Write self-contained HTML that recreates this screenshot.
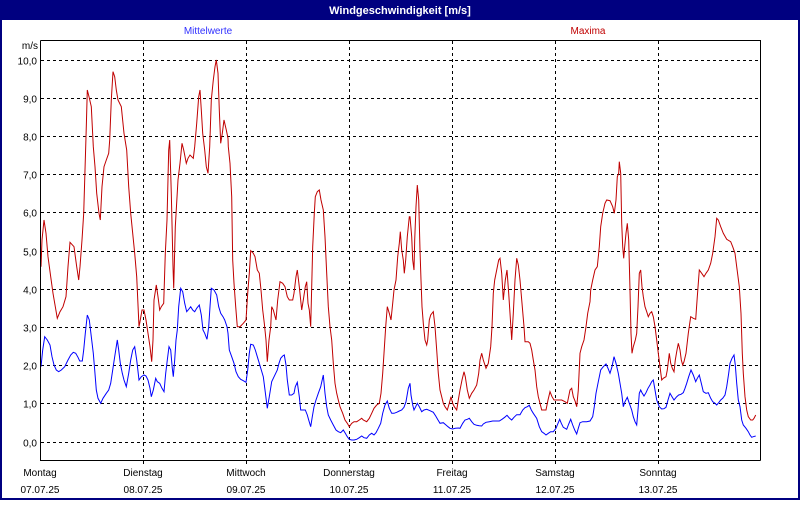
<!DOCTYPE html>
<html><head><meta charset="utf-8"><style>
html,body{margin:0;padding:0;background:#fff;}
body{width:800px;height:500px;overflow:hidden;font-family:"Liberation Sans",Arial,sans-serif;}
</style></head><body>
<svg id="s" width="800" height="500" xmlns="http://www.w3.org/2000/svg" font-family="Liberation Sans, Arial, sans-serif" font-size="10">
<rect x="0" y="0" width="800" height="500" fill="#000080"/>
<rect x="2" y="20" width="796" height="478" fill="#fff"/>
<text x="400" y="14" fill="#fff" font-weight="bold" font-size="11" text-anchor="middle">Windgeschwindigkeit [m/s]</text>
<text x="208" y="34" fill="#3030ff" text-anchor="middle">Mittelwerte</text>
<text x="588" y="34" fill="#c00000" text-anchor="middle">Maxima</text>
<text x="38" y="49" text-anchor="end">m/s</text>
<g id="grid" stroke="#000" stroke-width="1" stroke-dasharray="3,3"></g>
<g id="lbl" text-anchor="end"></g>
<g id="xl" text-anchor="middle"></g>
<clipPath id="cp"><rect x="41" y="41" width="719" height="419"/></clipPath>
<g clip-path="url(#cp)" fill="none" stroke-width="1">
<polyline id="red" stroke="#c00000"/>
<polyline id="blue" stroke="#0000ff"/>
</g>
<path d="M40.5 40.5H760.5V460.5M40.5 40.5V460.5H760.5" stroke="#000" fill="none"/>
</svg>
<script>
var g=document.getElementById('grid'),l=document.getElementById('lbl'),xl=document.getElementById('xl');
var ns='http://www.w3.org/2000/svg';
function el(t,a,p,txt){var e=document.createElementNS(ns,t);for(var k in a)e.setAttribute(k,a[k]);if(txt)e.textContent=txt;p.appendChild(e);return e;}
for(var v=0;v<=10;v++){var y=Math.round(441.5-v*38.2)+0.5;el('line',{x1:41,x2:760,y1:y,y2:y},g);el('text',{x:37,y:y+4},l,v.toFixed(1).replace('.',','));}
var days=['Montag','Dienstag','Mittwoch','Donnerstag','Freitag','Samstag','Sonntag'];
for(var i=0;i<7;i++){var x=40+i*103;if(i>0)el('line',{x1:x+0.5,x2:x+0.5,y1:41,y2:466},g);
var cx=i==0?40:x;el('text',{x:cx,y:476},xl,days[i]);el('text',{x:cx,y:493},xl,(7+i<10?'0':'')+(7+i)+'.07.25');}
function build(segs){var out=[],last=-1;segs.forEach(function(s){s[0].forEach(function(p){var x=s[1]+p[0]/3,y=40+p[1]/3;if(x>last+0.3){out.push(x.toFixed(1)+','+y.toFixed(1));last=x;}});});return out.join(' ');}
var R4=[[9,680],[12,600],[18,540],[24,580],[30,650],[38,710],[45,760],[52,800],[58,835],[66,815],[75,800],[84,770],[90,680],[96,607],[108,620],[116,680],[122,720],[126,680],[132,600],[137,520],[140,420],[145,260],[148,150],[153,170],[160,200],[166,320],[171,380],[176,460],[183,520],[187,540],[192,440],[198,380],[205,360],[212,340],[215,300],[220,180],[225,95],[230,110],[235,150],[240,180],[250,200],[258,280],[266,330],[272,440],[278,520],[284,580],[290,640],[296,710],[303,860],[307,840],[312,810],[318,810],[324,840],[330,880],[336,920],[341,965],[345,900],[348,780],[355,735],[360,770],[365,810],[370,800],[377,790],[382,640],[387,540],[392,330],[395,300],[400,460],[405,680],[407,745],[412,560],[420,420],[426,370],[432,310],[437,330],[445,370],[450,355],[456,345],[466,355],[470,320],[476,250],[482,170],[486,150],[490,210],[494,280],[500,330],[505,380],[510,400],[515,320],[520,180],[526,120],[531,80],[535,60],[540,100],[544,210],[548,310],[553,280],[558,240],[565,270],[570,295]];
var R5=[[5,280],[8,300],[13,240],[18,260],[25,320],[30,370],[35,470],[38,660],[42,730],[47,800],[52,860],[60,860],[70,850],[78,840],[83,760],[88,700],[92,632],[100,640],[105,650],[112,690],[118,700],[123,750],[128,810],[133,850],[138,900],[142,965],[147,900],[152,860],[155,800],[160,810],[168,840],[173,780],[180,725],[188,730],[195,740],[202,770],[208,780],[218,780],[222,760],[228,710],[232,690],[238,740],[245,810],[250,780],[256,740],[260,725],[264,790],[268,810],[272,860],[275,740],[278,620],[283,520],[286,470],[292,455],[298,450],[303,480],[310,510],[315,590],[320,700],[325,800],[330,860],[335,900],[340,970],[345,1030],[350,1060],[355,1080],[360,1100],[368,1120],[375,1140],[382,1150],[388,1160],[395,1150],[402,1145],[410,1145],[418,1140],[425,1135],[430,1140],[440,1145],[448,1135],[455,1120],[462,1105],[470,1095],[478,1090],[483,1060],[488,1000],[492,940],[497,860],[502,800],[508,820],[513,840],[518,790],[522,750],[528,720],[533,650],[538,610],[541,575],[545,630],[550,660],[553,700],[557,660],[562,590],[568,530]];
var R6=[[30,530],[35,590],[38,660],[42,690],[44,600],[48,500],[52,435],[56,480],[60,630],[63,720],[66,800],[70,850],[75,900],[80,915],[83,900],[88,840],[92,825],[100,815],[105,860],[110,930],[115,1000],[120,1050],[125,1070],[130,1090],[135,1100],[142,1110],[148,1090],[153,1070],[158,1090],[163,1100],[170,1110],[175,1080],[180,1050],[186,1020],[192,995],[196,1010],[202,1050],[208,1075],[215,1060],[222,1050],[230,1035],[236,1000],[240,960],[245,940],[250,960],[258,985],[265,970],[272,920],[276,860],[280,760],[284,720],[290,690],[296,660],[300,655],[305,700],[310,780],[316,720],[321,690],[326,760],[330,820],[335,900],[340,820],[345,720],[350,655],[355,675],[360,720],[366,790],[372,860],[375,905],[385,905],[390,910],[395,930],[400,960],[405,990],[410,1040],[415,1070],[420,1090],[425,1110],[438,1110],[444,1080],[450,1055],[456,1070],[462,1080],[470,1080],[485,1080],[495,1085],[502,1090],[510,1050],[515,1045],[520,1070],[526,1085],[530,1100],[535,1050],[540,940],[545,920],[552,900],[558,860],[563,820],[570,785]];
var R7=[[5,920],[12,900],[18,860],[25,800],[32,750],[38,720],[45,690],[52,680],[58,620],[62,560],[68,520],[75,490],[80,480],[90,482],[98,500],[103,520],[108,480],[112,410],[116,400],[118,365],[122,400],[125,550],[128,620],[131,655],[134,620],[138,580],[142,550],[146,600],[150,750],[153,880],[156,940],[160,920],[166,900],[170,880],[174,800],[178,700],[182,690],[186,740],[190,770],[195,800],[200,815],[205,830],[210,820],[215,815],[220,830],[225,860],[230,900],[235,940],[240,980],[245,1020],[250,1015],[258,1010],[262,990],[268,940],[272,970],[277,985],[282,995],[286,960],[290,935],[295,910],[300,930],[304,960],[308,975],[312,965],[318,940],[325,880],[332,830],[340,835],[347,838],[352,770],[358,690],[365,700],[372,710],[378,700],[385,690],[392,670],[398,640],[405,590],[410,535],[415,540],[422,560],[430,580],[440,598],[452,605],[458,620],[465,640],[470,680],[478,740],[483,820],[487,940],[490,1000],[495,1070],[500,1110],[505,1130],[512,1140],[518,1140],[522,1135],[527,1125]];
var B4=[[9,980],[14,930],[20,890],[28,900],[36,915],[42,950],[48,975],[55,990],[62,995],[70,990],[80,980],[90,960],[98,945],[106,937],[113,940],[120,952],[125,963],[133,963],[137,930],[142,880],[148,825],[154,840],[160,890],[166,940],[170,990],[175,1050],[180,1075],[188,1090],[195,1075],[205,1060],[212,1050],[218,1030],[224,990],[230,950],[238,900],[242,930],[247,970],[253,1000],[258,1020],[265,1040],[272,1000],[278,960],[284,930],[290,920],[296,960],[303,1020],[310,1010],[318,1005],[324,1008],[330,1020],[336,1045],[340,1070],[346,1050],[353,1015],[358,1025],[365,1030],[372,1045],[378,1055],[383,1000],[388,960],[393,920],[398,930],[403,985],[406,1010],[410,960],[414,900],[418,870],[422,800],[428,745],[434,755],[440,790],[446,815],[452,808],[458,800],[464,810],[470,815],[476,805],[484,795],[490,825],[495,870],[500,880],[507,898],[512,860],[516,800],[520,745],[528,750],[536,765],[542,800],[548,820],[555,830],[560,840],[567,860],[570,880]];
var B5=[[8,830],[15,860],[22,900],[28,930],[35,950],[42,970],[48,995],[55,1010],[62,1018],[70,1022],[78,1027],[83,990],[88,940],[92,913],[100,915],[106,930],[112,950],[118,970],[124,990],[130,1010],[135,1050],[142,1105],[148,1070],[155,1025],[160,1015],[167,1000],[172,990],[177,970],[182,955],[188,948],[193,945],[198,975],[202,1020],[208,1065],[215,1065],[222,1060],[226,1040],[232,1027],[238,1070],[242,1110],[248,1110],[256,1110],[262,1125],[266,1140],[272,1160],[277,1130],[282,1100],[288,1080],[295,1060],[302,1040],[310,1005],[315,1060],[320,1100],[325,1125],[332,1140],[340,1155],[348,1170],[355,1175],[362,1178],[370,1170],[376,1180],[382,1190],[388,1198],[395,1200],[402,1200],[410,1198],[418,1193],[425,1188],[432,1193],[440,1195],[448,1185],[455,1180],[462,1185],[468,1178],[475,1165],[482,1150],[488,1120],[495,1095],[502,1083],[508,1105],[515,1120],[522,1120],[530,1117],[538,1113],[545,1110],[552,1102],[558,1085],[565,1045],[570,1030]];
var B6=[[30,1040],[33,1065],[38,1095],[42,1110],[47,1100],[52,1090],[58,1100],[65,1115],[72,1110],[80,1108],[90,1112],[100,1117],[107,1128],[114,1140],[120,1150],[130,1148],[138,1155],[144,1160],[150,1165],[158,1167],[166,1165],[175,1164],[180,1165],[188,1150],[195,1140],[202,1138],[208,1135],[215,1145],[222,1153],[230,1156],[238,1157],[245,1158],[250,1152],[258,1147],[268,1145],[278,1143],[290,1143],[298,1143],[306,1138],[314,1132],[321,1126],[328,1134],[335,1140],[342,1132],[350,1124],[360,1124],[368,1110],[375,1103],[382,1100],[388,1096],[394,1110],[400,1120],[410,1135],[418,1160],[425,1175],[432,1180],[438,1185],[445,1180],[452,1175],[460,1175],[468,1165],[474,1150],[479,1138],[484,1150],[490,1162],[500,1168],[506,1152],[512,1138],[518,1155],[524,1170],[530,1182],[535,1165],[540,1148],[548,1145],[560,1145],[570,1143]];
var B7=[[10,1147],[20,1147],[30,1142],[38,1130],[43,1100],[48,1060],[55,1025],[62,990],[70,980],[78,972],[84,985],[90,1000],[96,980],[102,950],[108,970],[115,1000],[120,1030],[125,1060],[130,1100],[135,1085],[142,1072],[148,1090],[155,1110],[160,1130],[165,1145],[170,1155],[174,1110],[178,1060],[182,1050],[186,1058],[192,1068],[198,1058],[204,1045],[210,1035],[215,1025],[220,1020],[225,1050],[230,1080],[238,1100],[245,1107],[252,1106],[258,1102],[264,1080],[270,1060],[276,1070],[282,1080],[290,1070],[296,1065],[303,1063],[310,1058],[315,1045],[320,1030],[326,1010],[333,990],[340,1005],[347,1025],[352,1015],[358,1005],[364,1030],[370,1055],[378,1060],[385,1058],[392,1075],[398,1085],[405,1090],[410,1095],[416,1088],[422,1080],[428,1075],[435,1065],[440,1040],[446,1000],[450,970],[456,955],[462,945],[466,975],[470,1030],[475,1080],[480,1100],[485,1140],[490,1155],[498,1165],[505,1175],[510,1185],[515,1192],[520,1190],[527,1188]];
document.getElementById('red').setAttribute('points',build([[R4,38],[R5,220],[R6,400],[R7,580]]));
document.getElementById('blue').setAttribute('points',build([[B4,38],[B5,220],[B6,400],[B7,580]]));
</script>
</body></html>
